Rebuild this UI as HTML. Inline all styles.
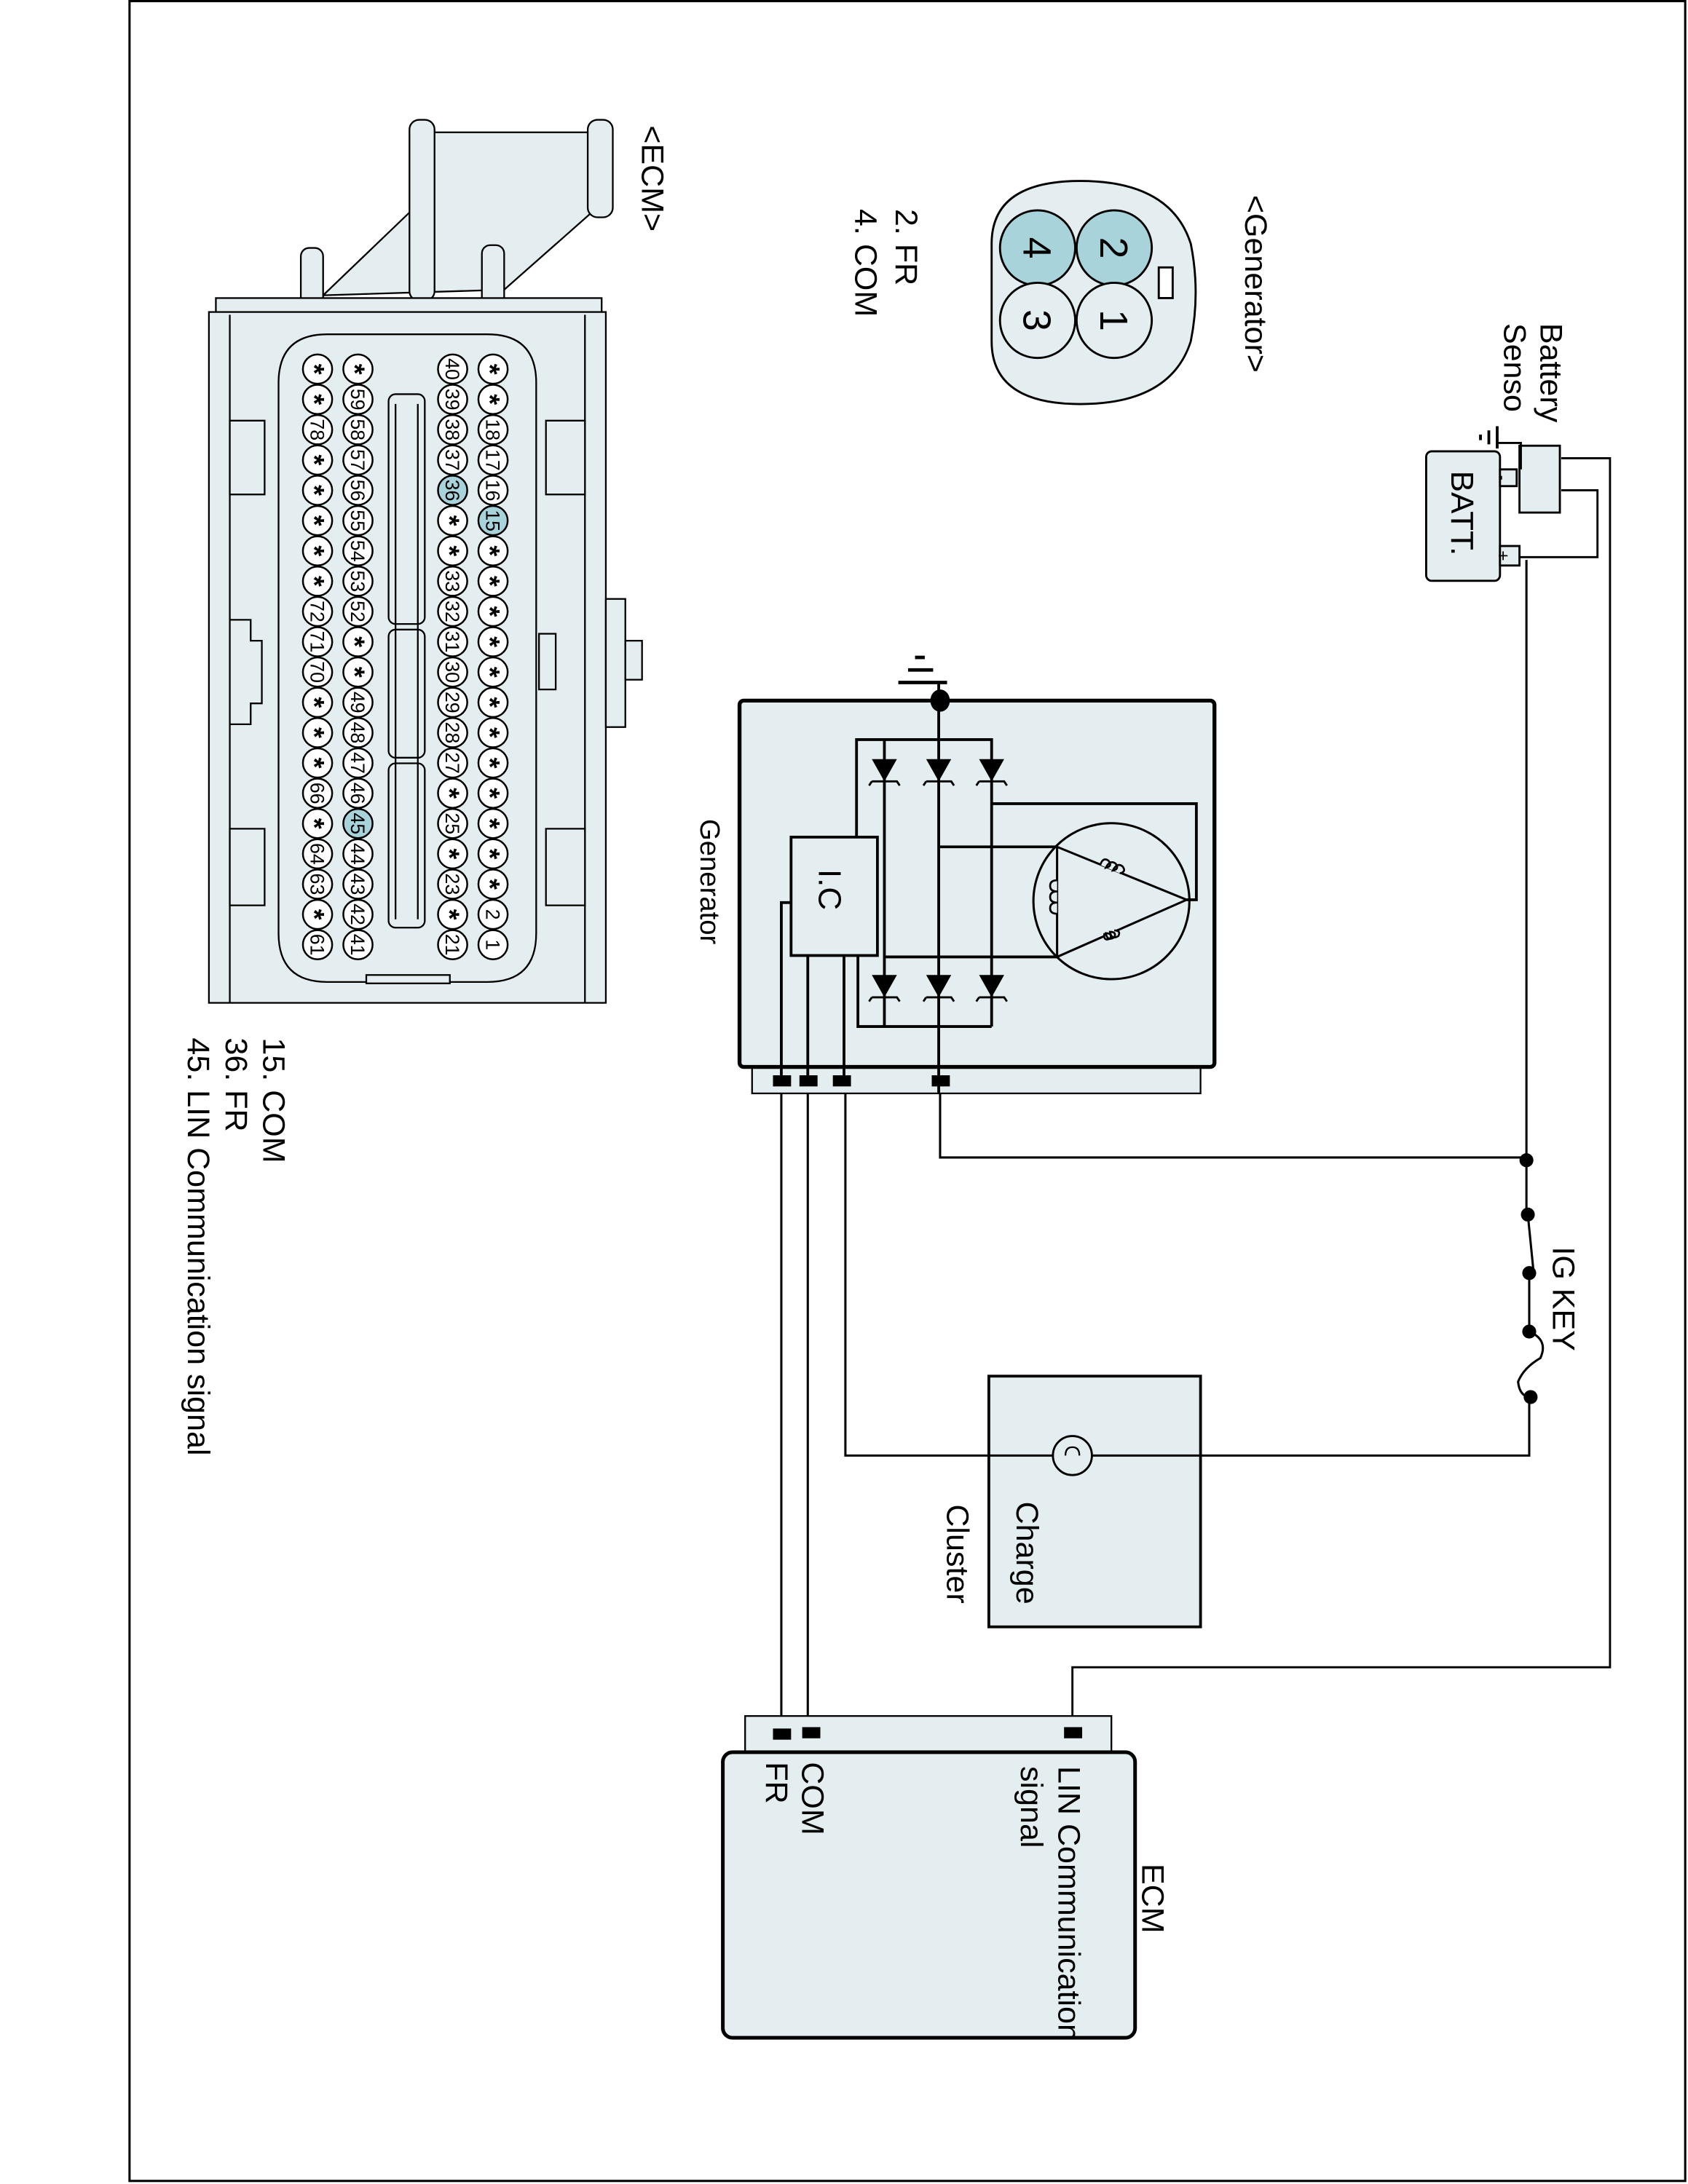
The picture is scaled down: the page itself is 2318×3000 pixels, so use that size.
<!DOCTYPE html>
<html><head><meta charset="utf-8"><style>
html,body{margin:0;padding:0;background:#fff}
svg{display:block}
text{font-family:"Liberation Sans",Arial,sans-serif;fill:#000}
</style></head><body>
<svg id="s" width="2318" height="3000" viewBox="0 0 1212 1568" preserveAspectRatio="none" xmlns="http://www.w3.org/2000/svg">
<rect x="0" y="0" width="1212" height="1568" fill="#fff"/>
<rect x="93" y="0.8" width="1117" height="1565" fill="none" stroke="#000" stroke-width="1.6"/>

<!-- ECM connector -->
<g stroke="#000" stroke-width="1.2" fill="#e4eef0">
  <polygon points="305,95 430,95 430,148 362,208 232,212 305,142"/>
  <rect x="294" y="86" width="18" height="130" rx="7"/>
  <rect x="422" y="86" width="18" height="70" rx="7"/>
  <rect x="216" y="178" width="16" height="50" rx="6"/>
  <rect x="346" y="176" width="16" height="52" rx="6"/>
  <rect x="155" y="214" width="277" height="12"/>
  <rect x="150" y="224" width="285" height="496"/>
  <rect x="435" y="430" width="14" height="92"/>
  <rect x="449" y="460" width="12" height="28"/>
  <line x1="165" y1="226" x2="165" y2="720"/>
  <line x1="420" y1="226" x2="420" y2="720"/>
  <path d="M165,302 H190 V355 H165 Z M165,595 H190 V650 H165 Z M392,302 H420 V355 H392 Z M392,595 H420 V650 H392 Z" />
  <path d="M165,445 H180 V460 H188 V505 H180 V520 H165" fill="none"/>
  <rect x="387" y="455" width="12" height="40"/>
  <path d="M235,240 H350 Q385,240 385,275 V670 Q385,705 350,705 H235 Q200,705 200,670 V275 Q200,240 235,240 Z"/>
  <rect x="263" y="700" width="60" height="6"/>
  <rect x="279" y="283" width="26" height="165" rx="5"/>
  <rect x="279" y="452" width="26" height="92" rx="5"/>
  <rect x="279" y="548" width="26" height="118" rx="5"/>
  <line x1="284" y1="290" x2="284" y2="660"/><line x1="300" y1="290" x2="300" y2="660"/>
</g>
<g id="pins"></g>

<!-- Generator connector -->
<g stroke="#000" stroke-width="1.5">
  <path d="M770,130 Q840,128 855,175 Q862,210 855,245 Q840,292 770,290 Q712,288 712,245 V175 Q712,132 770,130 Z" fill="#e4eef0"/>
  <rect x="832" y="192" width="10" height="22" fill="#fff"/>
  <circle cx="800" cy="178" r="27" fill="#a9d3db"/>
  <circle cx="745" cy="178" r="27" fill="#a9d3db"/>
  <circle cx="800" cy="230" r="27" fill="#e4eef0"/>
  <circle cx="745" cy="230" r="27" fill="#e4eef0"/>
</g>
<g font-size="28">
<text transform="translate(800,178) rotate(90)" text-anchor="middle" dy="10">2</text>
<text transform="translate(745,178) rotate(90)" text-anchor="middle" dy="10">4</text>
<text transform="translate(800,230) rotate(90)" text-anchor="middle" dy="10">1</text>
<text transform="translate(745,230) rotate(90)" text-anchor="middle" dy="10">3</text>
</g>

<!-- Battery -->
<g stroke="#000" stroke-width="1.5">
  <rect x="1024" y="324" width="53" height="93" rx="4" fill="#e4eef0"/>
  <rect x="1077" y="337" width="12" height="12" fill="#e4eef0"/>
  <rect x="1077" y="392" width="14" height="14" fill="#e4eef0"/>
  <rect x="1091" y="320" width="29" height="48" fill="#e4eef0"/>
  <path d="M1092,337 V318 H1075" fill="none"/>
  <line x1="1075" y1="306" x2="1075" y2="322" stroke-width="2"/>
  <line x1="1069" y1="309" x2="1069" y2="319" stroke-width="2"/>
  <line x1="1063" y1="312" x2="1063" y2="316" stroke-width="2"/>
  <path d="M1121,329 H1156 V1197 H770 V1240" fill="none"/>
  <path d="M1121,352 H1147 V400 H1091" fill="none"/>
</g>

<!-- main wires -->
<g stroke="#000" stroke-width="1.6" fill="none">
  <path d="M1096,402 V872"/>
  <path d="M1097,872 L1101,912"/>
  <path d="M1098,915 V956 Q1112,962 1106,975 Q1094,982 1090,992 Q1091,1002 1098,1003 V1045 H607 V785"/>
  <path d="M675,785 V831 H1096"/>
  <path d="M561,785 V1240 M580,785 V1240"/>
</g>
<g fill="#000">
  <circle cx="1096" cy="833" r="5"/><circle cx="1097" cy="872" r="5"/>
  <circle cx="1098" cy="914" r="5"/><circle cx="1098" cy="956" r="5"/>
  <circle cx="1099" cy="1003" r="5"/>
</g>

<!-- Charge cluster -->
<rect x="710" y="988" width="152" height="180" fill="#e4eef0" stroke="#000" stroke-width="2"/>
<line x1="710" y1="1045" x2="862" y2="1045" stroke="#000" stroke-width="1.6"/>
<circle cx="770" cy="1045" r="14" fill="#e4eef0" stroke="#000" stroke-width="1.5"/>
<path d="M770,1045 m-5,0 q0,-6 5,-6 q5,0 5,6" fill="none" stroke="#000" stroke-width="1.2"/>

<!-- ECM box -->
<rect x="535" y="1232" width="263" height="28" fill="#e4eef0" stroke="#000" stroke-width="1.2"/>
<rect x="519" y="1258" width="296" height="205" rx="7" fill="#e4eef0" stroke="#000" stroke-width="2.6"/>
<g fill="#000"><rect x="555" y="1241" width="13" height="8"/><rect x="576" y="1240" width="13" height="8"/><rect x="764" y="1240" width="13" height="8"/></g>

<!-- Generator box -->
<rect x="540" y="765" width="322" height="20" fill="#e4eef0" stroke="#000" stroke-width="1.2"/>
<rect x="531" y="503" width="341" height="263" rx="3" fill="#e4eef0" stroke="#000" stroke-width="2.8"/>
<g fill="#000"><rect x="555" y="772" width="13" height="8"/><rect x="574" y="772" width="13" height="8"/><rect x="598" y="772" width="13" height="8"/><rect x="669" y="772" width="13" height="8"/></g>
<g stroke="#000" stroke-width="2" fill="none">
  <line x1="657" y1="472" x2="664" y2="472" stroke-width="2.5"/>
  <line x1="652" y1="481" x2="670" y2="481" stroke-width="2.5"/>
  <line x1="645" y1="490" x2="680" y2="490" stroke-width="2.5"/>
  <path d="M674,490 V531 H615 V601 M674,531 H712 V737 M635,531 V737 M674,531 V785 M616,686 V737 H712"/>
  <path d="M712,577 H859 V646 H852"/>
  <path d="M674,608 H759 M635,687 H759"/>
  <circle cx="798" cy="647" r="56" stroke-width="1.6"/>
  <path d="M759,608 V687 M759,608 L852,646 L759,687" stroke-width="1.6"/>
  <rect x="568" y="601" width="62" height="85" fill="#e4eef0"/>
  <path d="M568,648 H561 V775 M580,686 V775 M606,686 V775"/>
</g>
<ellipse cx="675" cy="503" rx="7" ry="8" fill="#000"/>
<!-- coils -->
<g stroke="#000" stroke-width="1.4" fill="#e4eef0">
  <path d="M759,632 q-5,0 -5,4 q0,4 5,4 q-5,0 -5,4 q0,4 5,4 q-5,0 -5,4 q0,4 5,4"/>
  <path d="M790,621 q2,-6 6,-3 q3,4 -2,5 q3,-6 7,-3 q3,4 -2,5 q3,-6 7,-3 q3,4 -2,5"/>
  <path d="M793,670 q-1,6 4,4 q2,-4 -3,-4 q1,6 6,3 q2,-4 -3,-4 q1,6 6,3 q2,-4 -3,-4"/>
</g>
<g id="diodes"></g>

<!-- labels -->
<g font-size="22.5">
<text transform="translate(461,90) rotate(90)">&lt;ECM&gt;</text>
<text transform="translate(643,150) rotate(90)">2. FR</text>
<text transform="translate(614,150) rotate(90)">4. COM</text>
<text transform="translate(894,140) rotate(90)">&lt;Generator&gt;</text>
<text transform="translate(1106,232) rotate(90)">Battery</text>
<text transform="translate(1080,232) rotate(90)">Senso</text>
<text transform="translate(189,745) rotate(90)">15. COM</text>
<text transform="translate(162,745) rotate(90)">36. FR</text>
<text transform="translate(135,745) rotate(90)">45. LIN Communication signal</text>
<text transform="translate(503,588) rotate(90)" font-size="20">Generator</text>
<text transform="translate(1115,895) rotate(90)">IG KEY</text>
<text transform="translate(730,1078) rotate(90)">Charge</text>
<text transform="translate(680,1080) rotate(90)">Cluster</text>
<text transform="translate(820,1338) rotate(90)">ECM</text>
<text transform="translate(760,1268) rotate(90)">LIN Communication</text>
<text transform="translate(733,1268) rotate(90)">signal</text>
<text transform="translate(576,1265) rotate(90)">COM</text>
<text transform="translate(550,1265) rotate(90)">FR</text>
<text transform="translate(1042,338) rotate(90)" font-size="23">BATT.</text>
<text transform="translate(588,624) rotate(90)" font-size="23">I.C</text>
</g>
<text transform="translate(1079,343) rotate(90)" font-size="11" text-anchor="middle" dy="4">-</text>
<text transform="translate(1079,399) rotate(90)" font-size="13" text-anchor="middle" dy="4">+</text>
</svg>
<script>
var NS="http://www.w3.org/2000/svg";
function el(t,a,p){var e=document.createElementNS(NS,t);for(var k in a)e.setAttribute(k,a[k]);p.appendChild(e);return e;}
var cols={354:["*","*","18","17","16","15","*","*","*","*","*","*","*","*","*","*","*","*","2","1"],
325:["40","39","38","37","36","*","*","33","32","31","30","29","28","27","*","25","*","23","*","21"],
257:["*","59","58","57","56","55","54","53","52","*","*","49","48","47","46","45","44","43","42","41"],
228:["*","*","78","*","*","*","*","*","72","71","70","*","*","*","66","*","64","63","*","61"]};
var g=document.getElementById("pins");
for(var x in cols){cols[x].forEach(function(v,i){var cx=+x,cy=265+i*21.75;
var teal=(v=="15"||v=="36"||v=="45");
el("circle",{cx:cx,cy:cy,r:10.5,fill:teal?"#a9d3db":"#fff",stroke:"#000","stroke-width":1.3},g);
var t=el("text",{transform:"translate("+cx+","+cy+") rotate(90)","text-anchor":"middle",dy:v=="*"?"9":"5","font-size":v=="*"?"20":"14","font-weight":v=="*"?"bold":"normal"},g);t.textContent=v;});}
var d=document.getElementById("diodes");
[545,700].forEach(function(y){[635,674,712].forEach(function(x){
el("polygon",{points:(x-9)+","+y+" "+(x+9)+","+y+" "+x+","+(y+16)},d);
el("path",{d:"M"+(x-11)+","+(y+19)+" l2,-3 M"+(x-9)+","+(y+16)+" H"+(x+9)+" l2,3",stroke:"#000","stroke-width":1.5,fill:"none"},d);});});
</script>
</body></html>
